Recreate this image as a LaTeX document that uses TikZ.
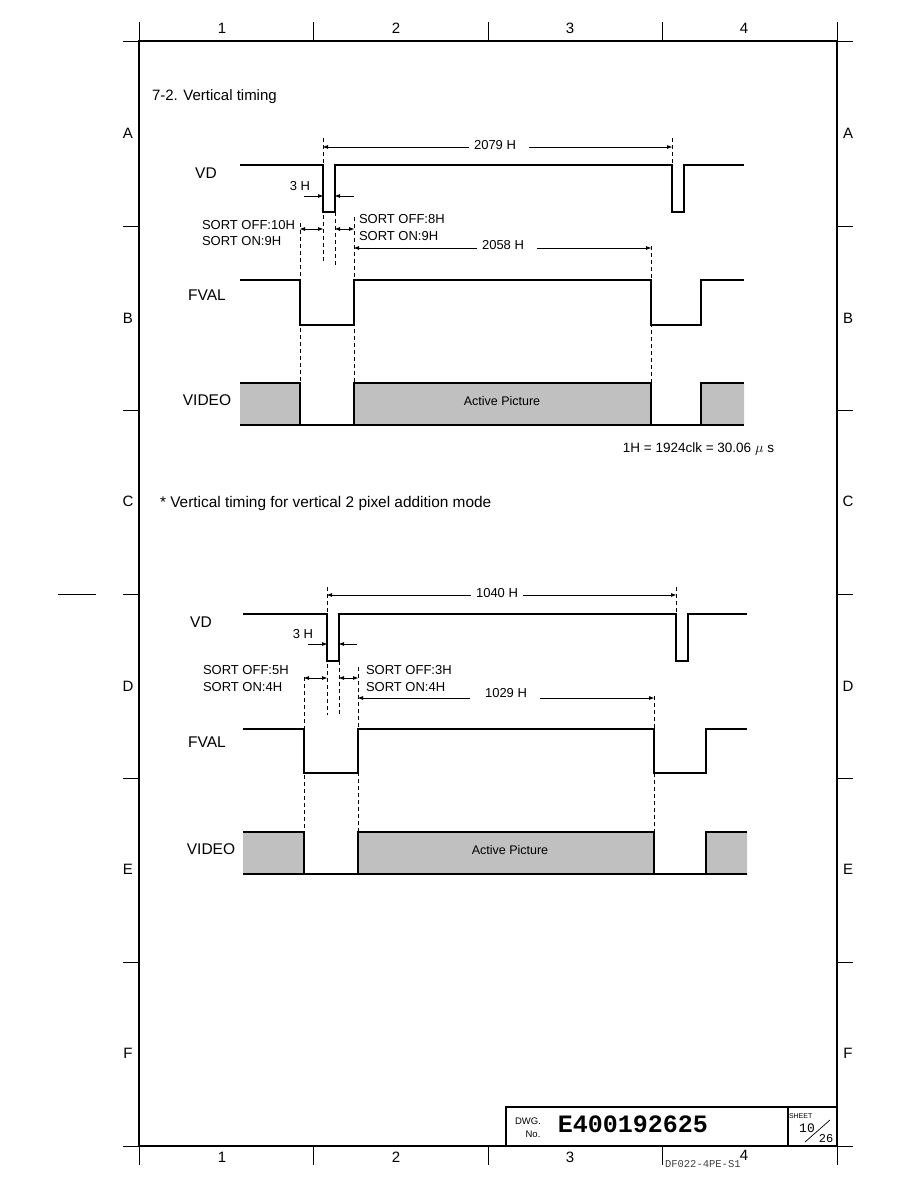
\documentclass[tikz,border=0pt]{standalone}
\usepackage{fontspec}
\setmainfont{Liberation Sans}
\newfontfamily\dwgmono{Liberation Mono}
\usetikzlibrary{arrows.meta}
\definecolor{videogray}{RGB}{192,192,192}

\begin{document}
\begin{tikzpicture}[x=1pt, y=-1pt, inner sep=0pt, outer sep=0pt,
    font=\fontsize{15}{18}\selectfont]
\tikzstyle{frame}=[line width=2.4pt]
\tikzstyle{tick}=[line width=0.9pt]
\tikzstyle{signal}=[line width=1.05pt, line join=miter]
\tikzstyle{guide}=[line width=0.9pt, dash pattern=on 4pt off 3pt]
\tikzstyle{dimline}=[line width=0.8pt, -{Triangle[length=5pt,width=3.5pt]}]
\tikzstyle{dimboth}=[line width=0.8pt, {Triangle[length=5pt,width=3.5pt]}-{Triangle[length=5pt,width=3.5pt]}]
\tikzstyle{sig}=[font=\fontsize{15.5}{18}\selectfont]
\tikzstyle{small}=[font=\fontsize{13}{15}\selectfont]
\tikzstyle{dimlabel}=[small, inner xsep=5pt]
\tikzstyle{active}=[font=\fontsize{12.5}{14}\selectfont]
\useasboundingbox (0,0) rectangle (918,1188);

% drawing frame
\draw[frame] (139,41) rectangle (837,1146);
\foreach \x in {139,313,488,662,837} {
  \draw[tick] (\x,22) -- (\x,41);
  \draw[tick] (\x,1146) -- (\x,1165);
}
\foreach \y in {41,226,410,594,778,962,1146} {
  \draw[tick] (123,\y) -- (139,\y);
  \draw[tick] (837,\y) -- (853,\y);
}
\draw[tick] (58,594) -- (96,594);
\foreach \n/\x in {1/222,2/396,3/570} {
  \node (colt\n) at (\x,28.5) {\n};
  \node (colb\n) at (\x,1157) {\n};
}
\node (colt4) at (744,28.5) {4};
\node (colb4) at (744,1155) {4};
\foreach \l/\y in {A/133,B/318,C/501,D/686,E/869,F/1053} {
  \node (rowl\l) at (128,\y) {\l};
  \node (rowr\l) at (848,\y) {\l};
}

% title block
\draw[line width=1.3pt] (506,1146) -- (506,1107) -- (837,1107);
\draw[line width=1.3pt] (788,1107) -- (788,1146);
\node (dwg) at (528,1121) [font=\fontsize{9.5}{11}\selectfont] {DWG.};
\node (dwgno) at (533,1134) [font=\fontsize{9.5}{11}\selectfont] {No.};
\node (dwgnum) at (633,1124) [font=\dwgmono\bfseries\fontsize{25}{28}\selectfont] {E400192625};
\node (sheet) [anchor=west] at (789,1116) [font=\fontsize{7}{8}\selectfont] {SHEET};
\node (sheetno) at (807,1128) [font=\dwgmono\fontsize{13}{14}\selectfont] {10};
\node (sheettot) at (826,1139) [font=\dwgmono\fontsize{12}{14}\selectfont] {26};
\draw[line width=0.7pt] (805,1142) -- (830,1120);
\node (dfcode) [anchor=west] at (665,1164) [font=\dwgmono\fontsize{10.5}{13}\selectfont, text=black!75] {DF022-4PE-S1};

% ---- 7-2 vertical timing
\node (title) [anchor=base west] at (152,101) {7-2. Vertical timing};
\node (vdA) [sig] at (206,173) {VD};
\node (fvalA) [sig] at (207,295) {FVAL};
\node (videoA) [sig] at (207,400) {VIDEO};

\draw[signal] (240,165) -- (323,165) -- (323,212) -- (335,212) -- (335,165)
  -- (672,165) -- (672,212) -- (684,212) -- (684,165) -- (744,165);
\draw[signal] (240,280) -- (300,280) -- (300,325) -- (354,325) -- (354,280)
  -- (651,280) -- (651,325) -- (701,325) -- (701,280) -- (744,280);
\fill[videogray] (240,383) rectangle (300,425) (354,383) rectangle (651,425)
  (701,383) rectangle (744,425);
\draw[signal] (240,383) -- (300,383) -- (300,425)
  (354,425) -- (354,383) -- (651,383) -- (651,425)
  (701,425) -- (701,383) -- (744,383)
  (240,425) -- (744,425);
\node (actA) [active] at (502,401) {Active Picture};

\coordinate (gfA) at (300,223);
\coordinate (gdA) at (323,138);
\coordinate (grA) at (335,212);
\coordinate (gsA) at (354,217);
\coordinate (gwA) at (651,246);
\coordinate (gvA) at (672,138);
\draw[guide] (gfA) -- (300,383);
\draw[guide] (gdA) -- (323,262);
\draw[guide] (grA) -- (335,267);
\draw[guide] (gsA) -- (354,383);
\draw[guide] (gwA) -- (651,383);
\draw[guide] (gvA) -- (672,165);

\node (totA) [dimlabel] at (495,145) {2079 H};
\coordinate (dA) at (323,147);
\draw[dimline] (totA.west |- dA) -- (dA);
\draw[dimline] ([xshift=8pt]totA.east |- dA) -- (dA -| gvA);

\node (h3A) [small] at (300,186) {3 H};
\coordinate (hA) at (304,196);
\draw[dimline] (hA) -- (hA -| gdA);
\draw[dimline] (hA -| gsA) -- (hA -| grA);

\coordinate (sA) at (300,229);
\draw[dimboth] (sA) -- (sA -| gdA);
\draw[dimboth] (sA -| grA) -- (sA -| gsA);
\node (offLA) [small, anchor=west] at (202,225) {SORT OFF:10H};
\node (onLA) [small, anchor=west] at (202,241) {SORT ON:9H};
\node (offRA) [small, anchor=west] at (359,219) {SORT OFF:8H};
\node (onRA) [small, anchor=west] at (359,236) {SORT ON:9H};

\node (actLenA) [dimlabel] at (503,245) {2058 H};
\coordinate (wA) at (354,248);
\draw[dimline] (actLenA.west |- wA) -- (wA);
\draw[dimline] ([xshift=8pt]actLenA.east |- wA) -- (wA -| gwA);

\node (clkA) [anchor=base east, font=\fontsize{13.5}{16}\selectfont] at (774,452)
  {1H = 1924clk = 30.06 $\mu$ s};

% ---- 2 pixel addition mode
\node (modeB) [anchor=base west, font=\fontsize{15.4}{18}\selectfont] at (160,507)
  {* Vertical timing for vertical 2 pixel addition mode};
\node (vdB) [sig] at (201,622) {VD};
\node (fvalB) [sig] at (207,742) {FVAL};
\node (videoB) [sig] at (211,849) {VIDEO};

\draw[signal] (243,614) -- (327,614) -- (327,661) -- (339,661) -- (339,614)
  -- (676,614) -- (676,661) -- (688,661) -- (688,614) -- (747,614);
\draw[signal] (243,729) -- (304,729) -- (304,773) -- (358,773) -- (358,729)
  -- (654,729) -- (654,773) -- (706,773) -- (706,729) -- (747,729);
\fill[videogray] (243,832) rectangle (304,874) (358,832) rectangle (654,874)
  (706,832) rectangle (747,874);
\draw[signal] (243,832) -- (304,832) -- (304,874)
  (358,874) -- (358,832) -- (654,832) -- (654,874)
  (706,874) -- (706,832) -- (747,832)
  (243,874) -- (747,874);
\node (actB) [active] at (510,850) {Active Picture};

\coordinate (gfB) at (304,677);
\coordinate (gdB) at (327,587);
\coordinate (grB) at (339,661);
\coordinate (gsB) at (358,667);
\coordinate (gwB) at (654,696);
\coordinate (gvB) at (676,587);
\draw[guide] (gfB) -- (304,832);
\draw[guide] (gdB) -- (327,715);
\draw[guide] (grB) -- (339,715);
\draw[guide] (gsB) -- (358,832);
\draw[guide] (gwB) -- (654,832);
\draw[guide] (gvB) -- (676,614);

\node (totB) [dimlabel] at (497,593) {1040 H};
\coordinate (dB) at (327,595);
\draw[dimline] (totB.west |- dB) -- (dB);
\draw[dimline] (totB.east |- dB) -- (dB -| gvB);

\node (h3B) [small] at (303,634) {3 H};
\coordinate (hB) at (308,644);
\draw[dimline] (hB) -- (hB -| gdB);
\draw[dimline] ([xshift=-1pt]hB -| gsB) -- (hB -| grB);

\coordinate (sB) at (304,678);
\draw[dimboth] (sB) -- (sB -| gdB);
\draw[dimboth] (sB -| grB) -- (sB -| gsB);
\node (offLB) [small, anchor=west] at (203,670) {SORT OFF:5H};
\node (onLB) [small, anchor=west] at (203,687) {SORT ON:4H};
\node (offRB) [small, anchor=west] at (366,670) {SORT OFF:3H};
\node (onRB) [small, anchor=west] at (366,687) {SORT ON:4H};

\node (actLenB) [dimlabel] at (506,693) {1029 H};
\coordinate (wB) at (358,698);
\draw[dimline] ([xshift=-10pt]actLenB.west |- wB) -- (wB);
\draw[dimline] ([xshift=8pt]actLenB.east |- wB) -- (wB -| gwB);
\end{tikzpicture}
\end{document}
